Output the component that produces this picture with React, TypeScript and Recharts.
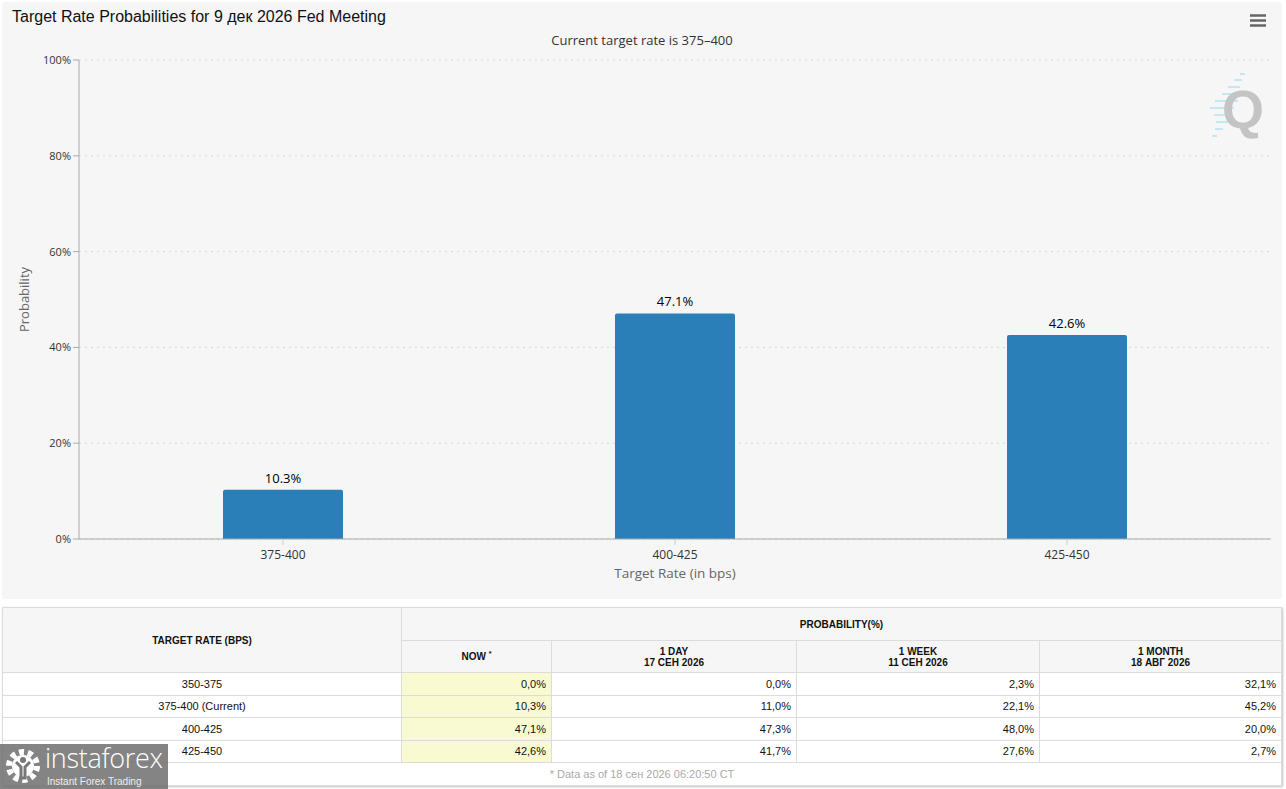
import { BarChart, Bar, XAxis, YAxis, CartesianGrid, LabelList } from 'recharts';

// chart data
const rates = ['375-400', '400-425', '425-450'];
const probabilities = [10.3, 47.1, 42.6];
const yTicks = [0, 20, 40, 60, 80, 100];

// table data
const tableRates = ['350-375', '375-400 (Current)', '400-425', '425-450'];
const nowProb = [0.0, 10.3, 47.1, 42.6];
const dayProb = [0.0, 11.0, 47.3, 41.7];
const weekProb = [2.3, 22.1, 48.0, 27.6];
const monthProb = [32.1, 45.2, 20.0, 2.7];

const chartData = rates.map((name, i) => ({ name, value: probabilities[i] }));

const chartFont = '"Open Sans", "DejaVu Sans", sans-serif';
const tableFont = '"Liberation Sans", Arial, sans-serif';

const fmt = (v: number) => v.toFixed(1).replace('.', ',') + '%';

function YTitle({ viewBox }: any) {
  const cx = 22;
  const cy = viewBox ? viewBox.y + viewBox.height / 2 : 297;
  return (
    <text
      x={cx}
      y={cy}
      transform={`rotate(-90 ${cx} ${cy})`}
      textAnchor="middle"
      dominantBaseline="central"
      fill="#666"
      fontSize={13}
      fontFamily={chartFont}
    >
      Probability
    </text>
  );
}

function XTitle({ viewBox }: any) {
  const cx = viewBox ? viewBox.x + viewBox.width / 2 : 673;
  const cy = viewBox ? viewBox.y + 34 : 571;
  return (
    <text
      x={cx}
      y={cy}
      textAnchor="middle"
      dominantBaseline="central"
      fill="#666"
      fontSize={13.5}
      fontFamily={chartFont}
    >
      Target Rate (in bps)
    </text>
  );
}

function Watermark() {
  const streaks = [
    [1238, 72, 1243], [1232, 78, 1240], [1226, 85, 1238], [1220, 92, 1238],
    [1213, 99, 1236], [1208, 106, 1232], [1212, 113, 1230], [1214, 120, 1226],
    [1213, 127, 1221], [1210, 134, 1215],
  ];
  return (
    <svg width={60} height={75} viewBox="1205 66 60 75" style={{ position: 'absolute', left: 1205, top: 66 }}>
      {streaks.map(([x1, y, x2], i) => (
        <line key={i} x1={x1} y1={y} x2={x2} y2={y} stroke="#b5e0f4" strokeWidth={1.5} />
      ))}
      <text x={1241} y={126} textAnchor="middle" fontSize={54} fontWeight="bold" fill="#c4c4c4" fontFamily={tableFont}>
        Q
      </text>
    </svg>
  );
}

function Logo() {
  return (
    <div
      style={{
        position: 'absolute',
        left: 0,
        top: 744,
        width: 168,
        height: 45,
        background: 'rgba(110,110,110,0.85)',
        color: '#fff',
        fontFamily: tableFont,
      }}
    >
      <svg width={36} height={36} style={{ position: 'absolute', left: 5, top: 4 }}>
        <circle cx={18} cy={18} r={14} fill="none" stroke="#fff" strokeWidth={6} strokeDasharray="5 3.8" />
        <circle cx={18} cy={18} r={11} fill="#fff" />
        <circle cx={18} cy={12} r={3} fill="#777" />
        <path d="M11 14 L16 19 L16 30 L20 30 L20 19 L25 14" fill="none" stroke="#777" strokeWidth={3} />
      </svg>
      <div
        style={{
          position: 'absolute',
          left: 45,
          top: 0,
          height: 27,
          fontSize: 27,
          lineHeight: '27px',
          fontWeight: 300,
          letterSpacing: -0.3,
          fontFamily: '"Open Sans", sans-serif',
        }}
      >
        instaforex
      </div>
      <div style={{ position: 'absolute', left: 47, top: 32, fontSize: 10, lineHeight: '12px', color: '#eee' }}>
        Instant Forex Trading
      </div>
    </div>
  );
}

const border = '1px solid #dcdcdc';

function ProbTable() {
  const th: React.CSSProperties = {
    border,
    fontWeight: 'bold',
    fontSize: 10,
    color: '#111',
    background: '#f6f6f6',
    textAlign: 'center',
    padding: 0,
  };
  const td: React.CSSProperties = {
    border,
    fontSize: 11,
    color: '#111',
    textAlign: 'right',
    padding: '0 5px',
    height: 21.5,
  };
  const cols = [dayProb, weekProb, monthProb];
  return (
    <table
      style={{
        position: 'absolute',
        left: 2,
        top: 607,
        width: 1279,
        borderCollapse: 'collapse',
        tableLayout: 'fixed',
        fontFamily: tableFont,
        background: '#fff',
        boxShadow: '1px 1px 2px rgba(0,0,0,0.25)',
      }}
    >
      <colgroup>
        <col style={{ width: 399 }} />
        <col style={{ width: 150 }} />
        <col style={{ width: 245 }} />
        <col style={{ width: 243 }} />
        <col style={{ width: 242 }} />
      </colgroup>
      <thead>
        <tr style={{ height: 33 }}>
          <th rowSpan={2} style={th}>TARGET RATE (BPS)</th>
          <th colSpan={4} style={th}>PROBABILITY(%)</th>
        </tr>
        <tr style={{ height: 32 }}>
          <th style={th}>
            NOW <sup style={{ fontSize: 7 }}>*</sup>
          </th>
          <th style={th}>1 DAY<br />17 СЕН 2026</th>
          <th style={th}>1 WEEK<br />11 СЕН 2026</th>
          <th style={th}>1 MONTH<br />18 АВГ 2026</th>
        </tr>
      </thead>
      <tbody>
        {tableRates.map((r, i) => (
          <tr key={r}>
            <td style={{ ...td, textAlign: 'center' }}>{r}</td>
            <td style={{ ...td, background: '#fafad2' }}>{fmt(nowProb[i])}</td>
            {cols.map((c, j) => (
              <td key={j} style={td}>{fmt(c[i])}</td>
            ))}
          </tr>
        ))}
        <tr>
          <td colSpan={5} style={{ ...td, textAlign: 'center', color: '#aaa', fontSize: 11 }}>
            * Data as of 18 сен 2026 06:20:50 CT
          </td>
        </tr>
      </tbody>
    </table>
  );
}

export default function App() {
  return (
    <div style={{ position: 'absolute', left: 0, top: 0, width: 1286, height: 789, background: '#fff', overflow: 'hidden' }}>
      <div style={{ position: 'absolute', left: 2, top: 2, width: 1280, height: 597, background: '#f6f6f6', borderRadius: 3 }}>
        <div style={{ position: 'absolute', left: 10, top: 6, fontSize: 16, color: '#111', fontFamily: tableFont }}>
          Target Rate Probabilities for 9 дек 2026 Fed Meeting
        </div>
        <div style={{ position: 'absolute', left: 0, top: 29, width: 1280, textAlign: 'center', fontSize: 13, color: '#333', fontFamily: chartFont }}>
          Current target rate is 375–400
        </div>
        <svg width={18} height={14} style={{ position: 'absolute', left: 1247, top: 12 }}>
          {[1.5, 6.5, 11.5].map((y) => (
            <line key={y} x1={1} x2={17} y1={y} y2={y} stroke="#666" strokeWidth={2.5} />
          ))}
        </svg>
        <BarChart width={1280} height={597} data={chartData} margin={{ top: 58, right: 11, left: 0, bottom: 0 }}>
          <CartesianGrid vertical={false} stroke="#d4d4d4" strokeDasharray="2 4" />
          <XAxis
            dataKey="name"
            height={60}
            padding={{ left: 8, right: 8 }}
            axisLine={{ stroke: '#aaa' }}
            tickLine={{ stroke: '#ccc' }}
            tickSize={6}
            tickMargin={5}
            tick={{ fill: '#333', fontSize: 12, fontFamily: chartFont }}
            label={<XTitle />}
          />
          <YAxis
            width={77}
            domain={[0, 100]}
            ticks={yTicks}
            interval={0}
            tickFormatter={(v) => v + '%'}
            axisLine={{ stroke: '#aaa' }}
            tickLine={{ stroke: '#aaa' }}
            tickSize={6}
            tickMargin={2}
            tick={{ fill: '#333', fontSize: 11, fontFamily: chartFont }}
            label={<YTitle />}
          />
          <Bar dataKey="value" fill="#2a7fb8" barSize={120} radius={[2, 2, 0, 0]} isAnimationActive={false}>
            <LabelList
              dataKey="value"
              position="top"
              offset={7}
              formatter={(v: any) => v + '%'}
              fill="#000"
              fontSize={13}
              fontFamily={chartFont}
            />
          </Bar>
        </BarChart>
        <Watermark />
      </div>
      <ProbTable />
      <Logo />
    </div>
  );
}
